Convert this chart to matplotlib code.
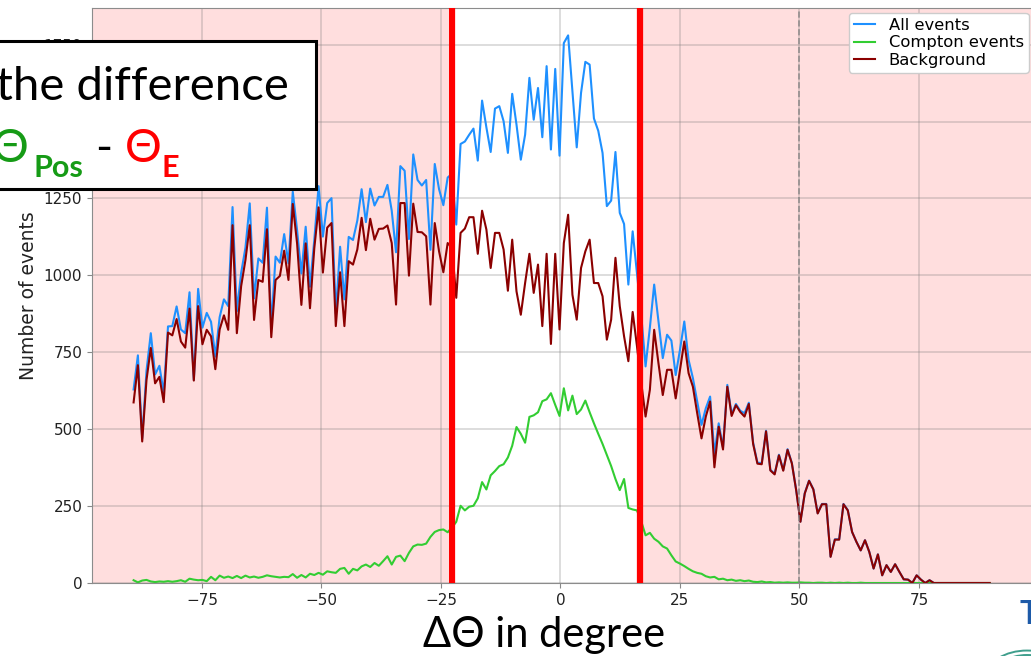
import numpy as np
import matplotlib
matplotlib.use("Agg")
import matplotlib.pyplot as plt
from matplotlib.patches import Rectangle, Circle

# ---------------------------------------------------------------------------
# Data: 200 bins of delta theta, in degrees
# ---------------------------------------------------------------------------

delta_theta = np.linspace(-89.3, 89.8, 200)

all_events = [
    629, 740, 470, 690, 812, 678, 706, 618, 834, 835,
    899, 824, 812, 945, 660, 956, 830, 878, 849, 736,
    864, 922, 900, 1222, 883, 1008, 1090, 1234, 925, 1055,
    1041, 1220, 833, 1061, 1041, 1134, 1039, 1272, 1147, 1006,
    1158, 963, 1115, 1290, 1126, 1235, 1251, 875, 1093, 922,
    1125, 1115, 1178, 1280, 1173, 1282, 1227, 1255, 1255, 1294,
    1210, 1075, 1355, 1340, 1118, 1393, 1310, 1292, 1310, 1083,
    1362, 1280, 1228, 1318, 1330, 1165, 1427, 1435, 1457, 1477,
    1373, 1568, 1481, 1401, 1542, 1550, 1501, 1398, 1590, 1490,
    1376, 1457, 1642, 1506, 1609, 1449, 1680, 1409, 1671, 1389,
    1755, 1780, 1598, 1416, 1593, 1694, 1685, 1510, 1470, 1398,
    1225, 1243, 1401, 1203, 1167, 970, 1143, 1008, 870, 704,
    830, 970, 850, 731, 807, 788, 676, 758, 850, 725,
    666, 590, 514, 568, 606, 421, 519, 440, 644, 549,
    582, 560, 552, 586, 456, 391, 390, 495, 368, 355,
    417, 367, 435, 390, 303, 200, 292, 333, 305, 227,
    257, 257, 86, 142, 142, 257, 237, 166, 134, 106,
    139, 101, 47, 93, 25, 58, 36, 61, 36, 12,
    11, 0, 25, 11, 0, 9, 0, 0, 0, 0,
    0, 0, 0, 0, 0, 0, 0, 0, 0, 0,
]

compton_events = [
    9, 2, 8, 10, 5, 3, 5, 4, 6, 4,
    6, 9, 4, 14, 11, 9, 10, 6, 20, 9,
    24, 17, 21, 16, 23, 16, 24, 18, 21, 17,
    20, 25, 22, 20, 18, 20, 19, 29, 17, 26,
    18, 30, 26, 33, 27, 38, 35, 33, 46, 49,
    30, 46, 41, 54, 60, 52, 65, 56, 71, 87,
    60, 85, 89, 71, 98, 119, 125, 124, 128, 150,
    166, 172, 174, 165, 180, 199, 251, 236, 248, 251,
    275, 328, 304, 350, 364, 380, 386, 408, 446, 507,
    485, 456, 540, 545, 555, 591, 597, 617, 579, 543,
    633, 561, 609, 549, 564, 593, 555, 519, 485, 452,
    416, 380, 338, 302, 338, 244, 239, 236, 200, 155,
    163, 144, 134, 119, 112, 90, 70, 63, 55, 46,
    38, 33, 30, 22, 18, 20, 12, 14, 9, 11,
    7, 9, 6, 8, 4, 3, 5, 2, 3, 1,
    2, 1, 2, 1, 1, 2, 1, 1, 0, 1,
    1, 0, 1, 0, 1, 0, 1, 0, 0, 1,
    0, 0, 0, 0, 0, 0, 0, 0, 0, 0,
    0, 0, 0, 0, 0, 0, 0, 0, 0, 0,
    0, 0, 0, 0, 0, 0, 0, 0, 0, 0,
]

background = [
    587, 708, 460, 660, 764, 649, 670, 588, 814, 805,
    858, 785, 765, 892, 658, 900, 776, 823, 802, 695,
    824, 870, 823, 1163, 812, 965, 1050, 1163, 855, 985,
    979, 1150, 799, 985, 998, 1080, 985, 1232, 1104, 904,
    1104, 893, 1088, 1221, 1009, 1155, 1170, 835, 1010, 835,
    1046, 1035, 1084, 1187, 1082, 1184, 1116, 1151, 1152, 1162,
    1105, 905, 1235, 1235, 999, 1233, 1141, 1140, 1127, 905,
    1170, 1078, 1010, 1105, 1090, 927, 1138, 1152, 1189, 1189,
    1070, 1210, 1149, 1024, 1138, 1138, 1084, 950, 1116, 948,
    872, 975, 1070, 943, 1035, 835, 1070, 777, 1070, 824,
    1105, 1197, 937, 856, 1024, 1078, 1116, 975, 975, 932,
    791, 856, 1057, 900, 802, 721, 881, 770, 650, 541,
    628, 823, 714, 611, 693, 693, 600, 693, 785, 682,
    638, 552, 470, 541, 590, 376, 508, 434, 638, 543,
    578, 556, 541, 582, 452, 388, 386, 493, 366, 353,
    415, 365, 433, 389, 302, 199, 291, 332, 304, 226,
    256, 256, 85, 141, 141, 256, 236, 166, 134, 106,
    139, 101, 47, 93, 25, 58, 36, 61, 36, 12,
    11, 0, 25, 11, 0, 9, 0, 0, 0, 0,
    0, 0, 0, 0, 0, 0, 0, 0, 0, 0,
]

series_labels = ['All events', 'Compton events', 'Background']

# cut window and marked positions (degrees)
cut_low, cut_high = -23.5, 16.5
marker_low, marker_high = -22.6, 16.6
dashed_at = 50

# ---------------------------------------------------------------------------
# Figure
# ---------------------------------------------------------------------------

W, H = 1031, 656


def fx(x):
    return x / W


def fy(y):
    return 1 - y / H


fig = plt.figure(figsize=(W / 100, H / 100), dpi=100)
ax = fig.add_axes([fx(92), fy(583), (1033.5 - 92) / W, (583 - 8) / H])

ax.axvspan(-120, cut_low, color='red', alpha=0.13, lw=0, zorder=0.5)
ax.axvspan(cut_high, 120, color='red', alpha=0.13, lw=0, zorder=0.5)

ax.plot(delta_theta, all_events, color='#1e90ff', lw=1.5, label=series_labels[0])
ax.plot(delta_theta, compton_events, color='#32cd32', lw=1.5, label=series_labels[1])
ax.plot(delta_theta, background, color='#8b0000', lw=1.5, label=series_labels[2])

ax.axvline(dashed_at, color='gray', ls='--', lw=1.2, alpha=0.8)

ax.set_xlim(-98.0, 98.95)
ax.set_ylim(bottom=0)
ax.grid(True, color='gray', alpha=0.35, lw=1.1)

ax.set_ylabel('Number of events', fontsize=13.5, color='#222222')
ax.tick_params(labelsize=11, color='#888888', labelcolor='#222222')
for sp in ax.spines.values():
    sp.set_color('#8c8c8c')

ax.legend(loc='upper right', fontsize=11.8, handlelength=1.3,
          labelspacing=0.15, borderaxespad=0.3, borderpad=0.3,
          framealpha=1.0)

# slide overlays: red cut markers
for xm in (marker_low, marker_high):
    ax.axvline(xm, color='#ff0000', lw=4.5, zorder=5)

# text box in the upper left
fig.add_artist(Rectangle((fx(-20), fy(188.5)), (315.5 + 20) / W, 148 / H,
                         transform=fig.transFigure, facecolor='white',
                         edgecolor='black', lw=2.2, zorder=10))

sfont = ['Lato', 'DejaVu Sans']
green = '#169b16'
fig.text(fx(289), fy(100), 'the difference', ha='right', va='baseline',
         fontsize=34, family=sfont, zorder=11)
fig.text(fx(29), fy(162), 'Θ', ha='right', va='baseline', fontsize=33,
         family=sfont, color=green, zorder=11)
fig.text(fx(33), fy(177), 'Pos', ha='left', va='baseline', fontsize=22,
         family=sfont, weight='bold', color=green, zorder=11)
fig.text(fx(103.5), fy(162), '-', ha='center', va='baseline', fontsize=33,
         family=sfont, zorder=11)
fig.text(fx(125), fy(162), 'Θ', ha='left', va='baseline', fontsize=33,
         family=sfont, color='#ff0000', zorder=11)
fig.text(fx(162), fy(177), 'E', ha='left', va='baseline', fontsize=22,
         family=sfont, weight='bold', color='#ff0000', zorder=11)

# x axis title written on the slide
fig.text(fx(544), fy(647), 'ΔΘ in degree', ha='center', va='baseline',
         fontsize=30, family=sfont, zorder=11)

# logo corner
fig.text(fx(1020), fy(624), 'T', ha='left', va='baseline', fontsize=24,
         weight='bold', color='#1d5aa8', family=sfont, zorder=11)
for r in (40, 33):
    fig.add_artist(Circle((fx(1027), fy(676)), r / W, transform=fig.transFigure,
                          fill=False, edgecolor='#3f9e8c', lw=1.4, zorder=11))

fig.savefig('out.png', dpi=100)
